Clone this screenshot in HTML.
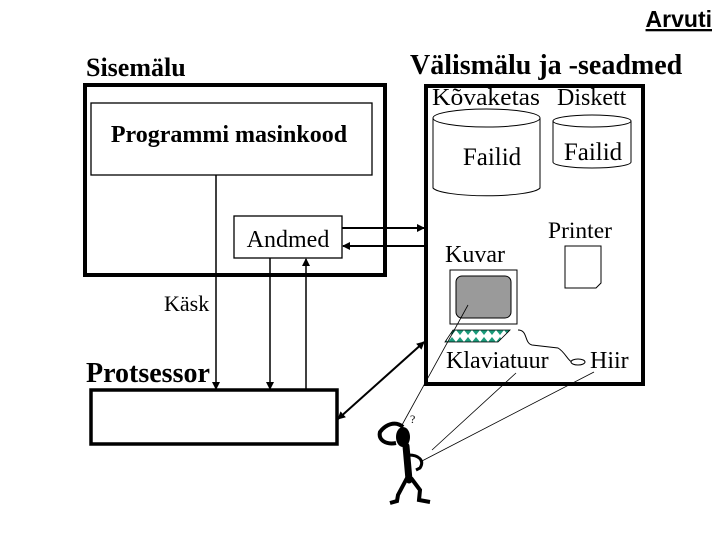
<!DOCTYPE html>
<html><head><meta charset="utf-8"><style>
html,body{margin:0;padding:0;background:#fff;}
svg{display:block;}
text{font-family:"Liberation Serif",serif;fill:#000;}
</style></head><body>
<svg width="720" height="540" viewBox="0 0 720 540" xmlns="http://www.w3.org/2000/svg">
<defs>
<marker id="a" markerWidth="8" markerHeight="8" refX="7" refY="4" orient="auto" markerUnits="userSpaceOnUse"><path d="M0,0 L8,4 L0,8 z" fill="#000"/></marker>
<marker id="b" markerWidth="8" markerHeight="8" refX="1" refY="4" orient="auto" markerUnits="userSpaceOnUse"><path d="M8,0 L0,4 L8,8 z" fill="#000"/></marker>
<pattern id="kb" width="8" height="12" patternUnits="userSpaceOnUse"><rect width="8" height="12" fill="#fff"/><path d="M4,1 L8,6 L4,11 L0,6z" fill="#1a9a7a"/></pattern>
</defs>
<text x="712" y="27" text-anchor="end" font-weight="bold" font-size="23" text-decoration="underline" style="font-family:'Liberation Sans',sans-serif">Arvuti</text>
<text x="86" y="76" font-weight="bold" font-size="26">Sisemälu</text>
<text x="410" y="74" font-weight="bold" font-size="28">Välismälu ja -seadmed</text>
<!-- left box -->
<rect x="85" y="85" width="300" height="190" fill="none" stroke="#000" stroke-width="4"/>
<rect x="91" y="103" width="281" height="72" fill="none" stroke="#000" stroke-width="1.3"/>
<text x="229" y="142" text-anchor="middle" font-weight="bold" font-size="24">Programmi masinkood</text>
<rect x="234" y="216" width="108" height="42" fill="none" stroke="#000" stroke-width="1.3"/>
<text x="288" y="247" text-anchor="middle" font-size="24">Andmed</text>
<!-- right box -->
<rect x="426" y="86" width="217" height="298" fill="none" stroke="#000" stroke-width="4"/>
<text x="432" y="105" font-size="24" textLength="108" lengthAdjust="spacingAndGlyphs">Kõvaketas</text>
<text x="557" y="105" font-size="24">Diskett</text>
<path d="M433,118 L433,188 A54,9 0 0 0 540,188 L540,118" fill="none" stroke="#000"/>
<ellipse cx="486.5" cy="118" rx="53.5" ry="9" fill="none" stroke="#000"/>
<text x="492" y="165" text-anchor="middle" font-size="25">Failid</text>
<path d="M553,121 L553,162 A39,6 0 0 0 631,162 L631,121" fill="none" stroke="#000"/>
<ellipse cx="592" cy="121" rx="39" ry="6" fill="none" stroke="#000"/>
<text x="593" y="160" text-anchor="middle" font-size="25">Failid</text>
<text x="548" y="238" font-size="23.5">Printer</text>
<path d="M565,246 L601,246 L601,283 L596,288 L565,288 Z" fill="#fff" stroke="#000"/>
<text x="445" y="262" font-size="24">Kuvar</text>
<rect x="450" y="270" width="67" height="54" fill="#fff" stroke="#000"/>
<rect x="456" y="276" width="55" height="42" rx="6" fill="#9a9a9a" stroke="#000"/>
<path d="M453,330 L510,330 L498,342 L445,342 Z" fill="url(#kb)" stroke="#000" stroke-width="0.8"/>
<path d="M518,330 C528,330 524,343 532,345 L558,348 C565,352 568,361 572,362" fill="none" stroke="#000"/>
<ellipse cx="578" cy="362" rx="7" ry="3" fill="#fff" stroke="#000"/>
<text x="446" y="368" font-size="24">Klaviatuur</text>
<text x="590" y="368" font-size="24">Hiir</text>
<!-- arrows -->
<line x1="342" y1="228" x2="424" y2="228" stroke="#000" stroke-width="2" marker-end="url(#a)"/>
<line x1="424" y1="246" x2="343" y2="246" stroke="#000" stroke-width="2" marker-end="url(#a)"/>
<line x1="216" y1="175" x2="216" y2="389" stroke="#000" stroke-width="1.5" marker-end="url(#a)"/>
<line x1="270" y1="258" x2="270" y2="389" stroke="#000" stroke-width="1.5" marker-end="url(#a)"/>
<line x1="306" y1="389" x2="306" y2="259" stroke="#000" stroke-width="1.5" marker-end="url(#a)"/>
<line x1="338" y1="419" x2="424" y2="342" stroke="#000" stroke-width="2" marker-start="url(#b)" marker-end="url(#a)"/>
<text x="164" y="311" font-size="22">Käsk</text>
<text x="86" y="382" font-weight="bold" font-size="28">Protsessor</text>
<rect x="91" y="390" width="246" height="54" fill="none" stroke="#000" stroke-width="3.5"/>
<!-- lines from figure -->
<line x1="402" y1="425" x2="468" y2="305" stroke="#000" stroke-width="0.8"/>
<line x1="432" y1="450" x2="516" y2="373" stroke="#000" stroke-width="0.8"/>
<line x1="420" y1="462" x2="594" y2="372" stroke="#000" stroke-width="0.8"/>
<!-- stick figure -->
<text x="410" y="423" font-size="12">?</text>
<ellipse cx="403" cy="437" rx="7" ry="10" fill="#000"/>
<path d="M403,427 C395,420 385,425 380,432 C378,440 386,445 396,443" fill="none" stroke="#000" stroke-width="4"/>
<path d="M406,446 L409,480" stroke="#000" stroke-width="7" stroke-linecap="round"/>
<path d="M409,455 C418,455 425,460 420,468 L416,470" fill="none" stroke="#000" stroke-width="3"/>
<path d="M407,478 L398,495 L397,501 L390,503" fill="none" stroke="#000" stroke-width="4"/>
<path d="M411,478 L420,490 L419,500 L430,502" fill="none" stroke="#000" stroke-width="4"/>
</svg>
</body></html>
